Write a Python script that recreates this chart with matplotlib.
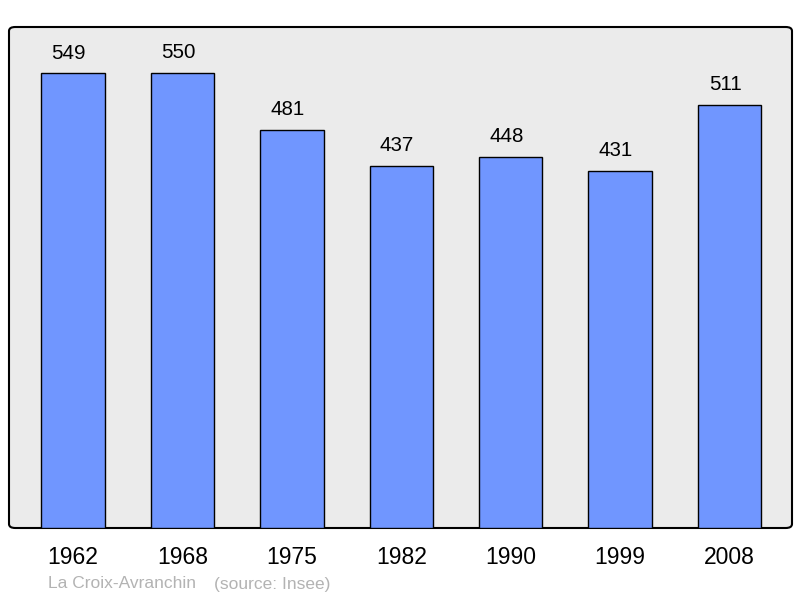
import matplotlib.pyplot as plt
from matplotlib.patches import FancyBboxPatch

plt.rcParams['font.family'] = ['Liberation Sans', 'DejaVu Sans']

years = ["1962", "1968", "1975", "1982", "1990", "1999", "2008"]
population = [549, 550, 481, 437, 448, 431, 511]
town = "La Croix-Avranchin"
source = "(source: Insee)"

fig = plt.figure(figsize=(8, 5.98), dpi=100)
ax = fig.add_axes([9 / 800, (598 - 528) / 598, 783 / 800, 501 / 598])

x = range(len(years))
ax.bar(x, population, width=0.58, color="#7096ff", edgecolor="black", linewidth=1.0, zorder=2)
for xi, v in zip(x, population):
    ax.text(xi - 0.04, v + 13, str(v), ha="center", va="bottom", fontsize=14.8)

ax.set_xlim(-0.585, 6.57)
ax.set_ylim(0, 605)
ax.set_facecolor("none")
for s in ax.spines.values():
    s.set_visible(False)
ax.set_yticks([])
ax.set_xticks(list(x))
ax.set_xticklabels(years, fontsize=16.5)
ax.tick_params(axis="x", length=0, pad=13)

# rounded frame behind the bars
frame = FancyBboxPatch((0, 0), 1, 1, boxstyle="round,pad=0,rounding_size=0.008",
                       transform=ax.transAxes, facecolor="#ebebeb", edgecolor="black",
                       linewidth=1.5, zorder=0, clip_on=False)
ax.add_patch(frame)

fig.text(48 / 800, 1 - 584 / 598, town, fontsize=12.5,
         color="#b3b3b3", va="center", ha="left")
fig.text(214 / 800, 1 - 584 / 598, source, fontsize=12.5,
         color="#b3b3b3", va="center", ha="left")

fig.savefig("out.png", dpi=100)
